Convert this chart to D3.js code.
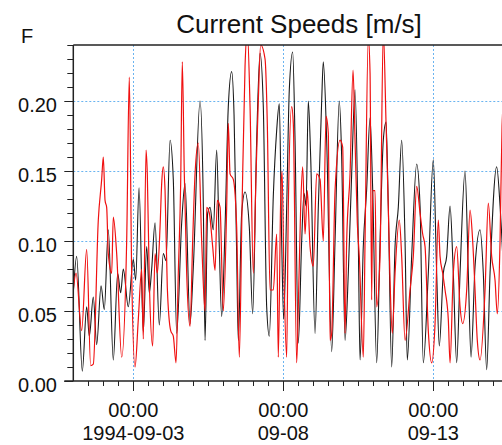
<!DOCTYPE html>
<html>
<head>
<meta charset="utf-8">
<script src="https://cdn.jsdelivr.net/npm/d3@7"></script>
<style>
  html, body { margin: 0; padding: 0; background: #fff; }
  svg { display: block; font-family: Arial, "Liberation Sans", sans-serif; }
</style>
</head>
<body>
<div id="chart"></div>
<script>
// Current speeds, two records (black / red), hours counted from 1994-09-01 00:00

const startTime = '1994-09-01T00:00';
const endTime = '1994-09-16T00:00';

const blackHours = [0, 2.7, 7.2, 10.7, 12.8, 16.0, 18.7, 22.2, 24.8, 28.0, 32.0, 35.5, 37.9, 40.0, 44.0, 48.0, 49.9, 52.6,
  56.0, 58.7, 60.8, 62.7, 65.4, 68.8, 72.0, 74.2, 77.4, 80.0, 82.7, 86.7, 89.4, 93.4, 96.0, 101.4, 104.0, 105.4, 107.5,
  109.4, 112.0, 114.7, 116.8, 118.7, 121.4, 124.0, 126.7, 128.6, 130.7, 132.0, 134.7, 137.4, 140.8, 143.5, 146.7, 149.4,
  152.0, 154.7, 156.8, 160.0, 162.7, 164.8, 166.7, 168.3, 170.7, 172.8, 175.5, 177.4, 180.0, 182.7, 184.6, 186.2, 188.0,
  189.9, 193.4, 196.0, 198.7, 200.0, 202.7, 206.7, 209.4, 212.8, 214.7, 217.4, 220.0, 222.7, 225.4, 228.0, 229.4, 232.0,
  234.7, 237.4, 239.5, 242.7, 245.4, 248.0, 250.2, 252.0, 254.7, 257.4, 260.0, 262.7, 265.4, 267.2, 270.7, 274.7, 277.4,
  280.0, 284.0, 288.0, 290.7, 292.8, 296.0, 298.7, 301.4, 304.0, 306.7, 309.4, 313.4, 316.0, 318.2, 321.4, 325.4, 328.0,
  330.7, 333.4, 338.7, 341.4, 344.0, 346.0];
const blackSpeed = [0.063, 0.089, 0.007, 0.053, 0.032, 0.060, 0.026, 0.068, 0.051, 0.108, 0.015, 0.077, 0.063, 0.080, 0.053, 0.087, 0.072, 0.138,
  0.035, 0.096, 0.063, 0.080, 0.113, 0.040, 0.091, 0.086, 0.172, 0.144, 0.034, 0.113, 0.141, 0.041, 0.081, 0.200, 0.127, 0.029, 0.120,
  0.124, 0.108, 0.165, 0.096, 0.046, 0.110, 0.196, 0.221, 0.190, 0.090, 0.029, 0.120, 0.135, 0.110, 0.048, 0.172, 0.234,
  0.196, 0.053, 0.032, 0.132, 0.179, 0.198, 0.100, 0.044, 0.124, 0.208, 0.235, 0.172, 0.027, 0.100, 0.134, 0.125, 0.200,
  0.160, 0.034, 0.124, 0.200, 0.228, 0.172, 0.021, 0.100, 0.200, 0.160, 0.029, 0.077, 0.148, 0.208, 0.100, 0.015, 0.096,
  0.137, 0.188, 0.137, 0.013, 0.100, 0.172, 0.185, 0.125, 0.010, 0.096, 0.124, 0.172, 0.100, 0.015, 0.089, 0.155, 0.125,
  0.013, 0.077, 0.158, 0.077, 0.025, 0.077, 0.089, 0.125, 0.077, 0.013, 0.077, 0.150, 0.077, 0.017, 0.082, 0.108, 0.077,
  0.008, 0.077, 0.153, 0.125, 0.080, 0.030];

const redHours = [0, 2.2, 6.7, 10.7, 13.9, 16.0, 20.0, 22.7, 24.0, 25.4, 26.7, 28.0, 30.7, 32.0, 34.7, 38.7, 42.7, 44.8, 46.7,
  49.4, 52.0, 54.7, 56.0, 58.2, 59.2, 60.8, 63.5, 65.4, 67.2, 69.4, 70.7, 72.0, 73.4, 75.2, 77.9, 80.0, 82.2, 84.0, 85.9,
  87.2, 88.8, 90.7, 93.4, 95.5, 97.4, 100.0, 102.7, 105.4, 106.7, 108.8, 111.5, 113.4, 115.2, 117.4, 120.0, 122.7, 124.0,
  125.4, 128.0, 130.7, 132.8, 135.0, 137.4, 139.2, 141.4, 144.0, 146.2, 148.0, 149.9, 153.4, 155.2, 157.4, 160.0, 162.7,
  164.0, 165.9, 167.0, 168.5, 170.7, 172.0, 174.7, 176.0, 178.7, 180.0, 181.9, 183.5, 185.4, 187.2, 189.4, 192.0, 194.7,
  197.4, 200.0, 202.2, 204.0, 205.4, 206.7, 209.4, 213.4, 215.5, 217.4, 218.7, 221.4, 223.8, 225.4, 227.2, 228.8, 232.0,
  233.4, 236.0, 237.4, 238.7, 239.5, 241.4, 242.7, 245.4, 248.0, 250.2, 252.0, 253.4, 255.2, 257.4, 260.8, 262.7, 265.4,
  269.4, 272.0, 274.7, 277.4, 279.5, 281.4, 284.0, 286.7, 289.4, 292.0, 293.4, 295.5, 297.4, 300.0, 301.4, 304.0, 306.7,
  309.4, 311.5, 314.7, 317.4, 319.5, 321.4, 323.2, 325.4, 329.4, 332.0, 334.7, 337.4, 339.2, 341.4, 343.0, 346.0];
const redSpeed = [0.065, 0.077, 0.036, 0.094, 0.011, 0.012, 0.115, 0.144, 0.160, 0.129, 0.124, 0.091, 0.077, 0.117, 0.091, 0.017, 0.100, 0.217, 0.077,
  0.010, 0.044, 0.080, 0.030, 0.165, 0.148, 0.072, 0.025, 0.091, 0.077, 0.110, 0.141, 0.153, 0.136, 0.067, 0.036, 0.032, 0.013, 0.077, 0.141,
  0.228, 0.148, 0.077, 0.039, 0.100, 0.148, 0.170, 0.100, 0.050, 0.124, 0.120, 0.096, 0.079, 0.129, 0.124, 0.050, 0.124, 0.184,
  0.148, 0.144, 0.110, 0.017, 0.124, 0.225, 0.250, 0.196, 0.077, 0.148, 0.200, 0.240, 0.230, 0.184, 0.065, 0.065, 0.105,
  0.017, 0.129, 0.150, 0.077, 0.017, 0.124, 0.196, 0.184, 0.013, 0.053, 0.124, 0.153, 0.105, 0.136, 0.096, 0.082, 0.148,
  0.144, 0.100, 0.189, 0.177, 0.029, 0.034, 0.136, 0.172, 0.167, 0.034, 0.100, 0.148, 0.222, 0.172, 0.113, 0.089, 0.017,
  0.100, 0.245, 0.220, 0.058, 0.136, 0.136, 0.053, 0.089, 0.250, 0.184, 0.124, 0.072, 0.034, 0.077, 0.115, 0.089, 0.029,
  0.065, 0.089, 0.139, 0.120, 0.105, 0.096, 0.036, 0.013, 0.041, 0.115, 0.089, 0.077, 0.065, 0.044, 0.013, 0.077, 0.096,
  0.053, 0.041, 0.065, 0.122, 0.100, 0.065, 0.029, 0.015, 0.065, 0.127, 0.089, 0.072, 0.048, 0.100, 0.182, 0.220];

const yMajorTicks = [0, 0.05, 0.10, 0.15, 0.20];
const xMajorTicks = ['1994-09-03T00:00', '1994-09-08T00:00', '1994-09-13T00:00'];
const xTimeLabels = ['00:00', '00:00', '00:00'];
const xDateLabels = ['1994-09-03', '09-08', '09-13'];

const width = 502, height = 445;
const plotLeft = 73.3, plotTop = 45, plotBottom = 381;

const parse = d3.utcParse('%Y-%m-%dT%H:%M');
const t0 = parse(startTime);
const toDate = h => new Date(t0.getTime() + h * 3600e3);

const x = d3.scaleUtc()
  .domain([t0, parse(endTime)])
  .range([plotLeft, plotLeft + 15 * 30]);
const y = d3.scaleLinear()
  .domain([0, 0.24])
  .range([plotBottom, plotTop]);

const svg = d3.select('#chart').append('svg')
  .attr('width', width)
  .attr('height', height);

svg.append('defs').append('clipPath').attr('id', 'plot-clip')
  .append('rect')
  .attr('x', plotLeft).attr('y', plotTop)
  .attr('width', width - plotLeft).attr('height', plotBottom - plotTop);

// grid - dotted light blue
const grid = svg.append('g').attr('stroke', '#6ab4f0').attr('stroke-dasharray', '2,2').attr('stroke-width', 1);
grid.selectAll('line.h').data(yMajorTicks.slice(1)).enter().append('line')
  .attr('x1', plotLeft).attr('x2', width)
  .attr('y1', d => Math.round(y(d)) + 0.5).attr('y2', d => Math.round(y(d)) + 0.5);
grid.selectAll('line.v').data(xMajorTicks).enter().append('line')
  .attr('x1', d => Math.round(x(parse(d))) + 0.5).attr('x2', d => Math.round(x(parse(d))) + 0.5)
  .attr('y1', plotTop).attr('y2', plotBottom);

// series
const line = d3.line()
  .x(d => x(toDate(d[0])))
  .y(d => y(d[1]))
  .curve(d3.curveMonotoneX);

const plot = svg.append('g').attr('clip-path', 'url(#plot-clip)');
plot.append('path')
  .datum(d3.zip(blackHours, blackSpeed))
  .attr('d', line)
  .attr('fill', 'none')
  .attr('stroke', '#1a1a1a')
  .attr('stroke-width', 1.1);
plot.append('path')
  .datum(d3.zip(redHours, redSpeed))
  .attr('d', line)
  .attr('fill', 'none')
  .attr('stroke', '#f01010')
  .attr('stroke-width', 1.2);

// frame (left, top, bottom)
const frame = svg.append('g').attr('stroke', '#222').attr('stroke-width', 1.5).attr('fill', 'none');
frame.append('line').attr('x1', plotLeft).attr('x2', plotLeft).attr('y1', plotTop).attr('y2', plotBottom);
frame.append('line').attr('x1', plotLeft).attr('x2', width).attr('y1', plotTop).attr('y2', plotTop);
frame.append('line').attr('x1', plotLeft - 9).attr('x2', width).attr('y1', plotBottom).attr('y2', plotBottom);

// y axis ticks
const yMinor = d3.range(0, 0.2405, 0.01);
svg.append('g').attr('stroke', '#222')
  .selectAll('line').data(yMinor).enter().append('line')
  .attr('x1', d => plotLeft - (yMajorTicks.some(m => Math.abs(m - d) < 1e-6) ? 9 : 6))
  .attr('x2', plotLeft)
  .attr('y1', d => Math.round(y(d)) + 0.5).attr('y2', d => Math.round(y(d)) + 0.5);
svg.append('g').selectAll('text').data(yMajorTicks).enter().append('text')
  .attr('x', 57).attr('y', d => y(d) + 11)
  .attr('text-anchor', 'end')
  .style('font-size', '20px').attr('fill', '#111')
  .text(d => d3.format('.2f')(d));

// x axis ticks
const xMinor = d3.utcHour.every(12).range(toDate(1), parse(endTime));
svg.append('g').attr('stroke', '#222')
  .selectAll('line').data(xMinor).enter().append('line')
  .attr('x1', d => Math.round(x(d)) + 0.5).attr('x2', d => Math.round(x(d)) + 0.5)
  .attr('y1', plotBottom)
  .attr('y2', d => plotBottom + (xMajorTicks.some(m => +parse(m) === +d) ? 10 : 5));

const xl = svg.append('g').attr('text-anchor', 'middle').style('font-size', '20px').attr('fill', '#111');
xl.selectAll('text.t').data(xMajorTicks).enter().append('text')
  .attr('x', d => x(parse(d))).attr('y', 417)
  .text((d, i) => xTimeLabels[i]);
xl.selectAll('text.d').data(xMajorTicks).enter().append('text')
  .attr('x', d => x(parse(d))).attr('y', 440)
  .text((d, i) => xDateLabels[i]);

// title and panel letter
svg.append('text').attr('x', 299).attr('y', 33)
  .attr('text-anchor', 'middle').style('font-size', '26px').attr('fill', '#111')
  .text('Current Speeds [m/s]');
svg.append('text').attr('x', 21).attr('y', 43)
  .style('font-size', '20px').attr('fill', '#111')
  .text('F');
</script>
</body>
</html>
